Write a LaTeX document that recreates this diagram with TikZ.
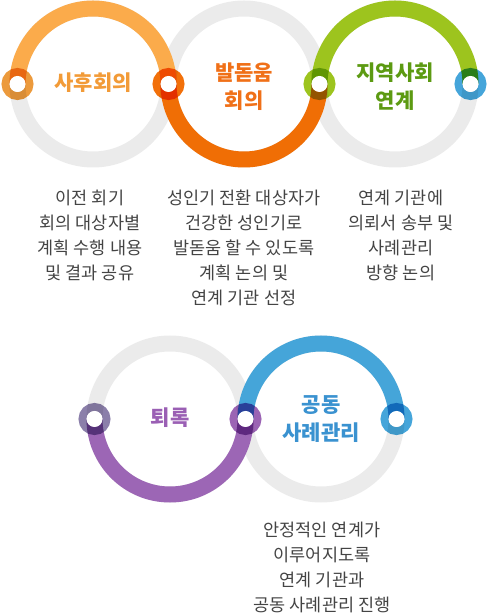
\documentclass[tikz,border=0pt]{standalone}
\usepackage{fontspec}
\setmainfont{Noto Sans CJK KR}
\usetikzlibrary{positioning}

\definecolor{ringgray}{HTML}{EBEBEB}
\definecolor{arcpeach}{HTML}{FBAB4B}
\definecolor{arcorange}{HTML}{F06E05}
\definecolor{arcgreen}{HTML}{9DC41E}
\definecolor{arcpurple}{HTML}{9C66B5}
\definecolor{arcblue}{HTML}{45A5D9}
\definecolor{dotpeach}{HTML}{EC9A3C}
\definecolor{dotorange}{HTML}{F2700A}
\definecolor{dotgreen}{HTML}{9DC41E}
\definecolor{dotblue}{HTML}{45A5DA}
\definecolor{dotlilac}{HTML}{8B7FAA}
\definecolor{dotpurple}{HTML}{9B64B4}
\definecolor{txtpeach}{HTML}{F29B38}
\definecolor{txtorange}{HTML}{F07018}
\definecolor{txtgreen}{HTML}{5C9A12}
\definecolor{txtpurple}{HTML}{9A5FB4}
\definecolor{txtblue}{HTML}{3A92D0}
\definecolor{desctext}{HTML}{444444}

\begin{document}
\begin{tikzpicture}[
    x=1pt,
    y=1pt,
    line cap=butt,
    ring/.style={draw=ringgray, line width=16pt},
    band/.style={line width=16pt},
    dotring/.style={line width=8pt},
    hole/.style={fill=white},
    title/.style={
        font=\fontsize{21}{28}\selectfont\bfseries,
        align=center,
        inner sep=0pt
    },
    desc/.style={
        font=\fontsize{17.5}{25}\selectfont,
        text=desctext,
        align=center,
        inner sep=0pt,
        anchor=north
    }
]
\useasboundingbox (0,0) rectangle (489,616);

% =========================
% Circle centres and joints
% =========================
\coordinate (c1) at (93,532);
\coordinate (c2) at (244,532);
\coordinate (c3) at (395,532);
\coordinate (c4) at (170,197);
\coordinate (c5) at (321,197);

\coordinate (j1) at (17.5,532);
\coordinate (j2) at (168.5,532);
\coordinate (j3) at (319.5,532);
\coordinate (j4) at (470.5,532);
\coordinate (j5) at (94.5,197);
\coordinate (j6) at (245.5,197);
\coordinate (j7) at (396.5,197);

% =========================
% Gray rings
% =========================
\draw[ring] (c1) circle[radius=75.5];
\draw[ring] (c2) circle[radius=75.5];
\draw[ring] (c3) circle[radius=75.5];
\draw[ring] (c4) circle[radius=75.5];
\draw[ring] (c5) circle[radius=75.5];

% =========================
% Coloured halves
% =========================
\draw[band, arcpeach] (j1) arc[start angle=180, end angle=0, radius=75.5];
\draw[band, arcorange] (j2) arc[start angle=180, end angle=360, radius=75.5];
\draw[band, arcgreen] (j3) arc[start angle=180, end angle=0, radius=75.5];
\draw[band, arcpurple] (j5) arc[start angle=180, end angle=360, radius=75.5];
\draw[band, arcblue] (j6) arc[start angle=180, end angle=0, radius=75.5];

% =========================
% Joints
% =========================
\begin{scope}[blend mode=multiply]
\draw[dotring, dotpeach] (j1) circle[radius=12];
\draw[dotring, dotorange] (j2) circle[radius=12];
\draw[dotring, dotgreen] (j3) circle[radius=12];
\draw[dotring, dotblue] (j4) circle[radius=12];
\draw[dotring, dotlilac] (j5) circle[radius=12];
\draw[dotring, dotpurple] (j6) circle[radius=12];
\draw[dotring, dotblue] (j7) circle[radius=12];
\end{scope}
\fill[hole] (j1) circle[radius=8];
\fill[hole] (j2) circle[radius=8];
\fill[hole] (j3) circle[radius=8];
\fill[hole] (j4) circle[radius=8];
\fill[hole] (j5) circle[radius=8];
\fill[hole] (j6) circle[radius=8];
\fill[hole] (j7) circle[radius=8];

% =========================
% Titles
% =========================
\node[title, text=txtpeach] (review) at (93,533) {사후회의};
\node[title, text=txtorange] (growth) at (244,529) {발돋움\\회의};
\node[title, text=txtgreen] (link) at (395,529) {지역사회\\연계};
\node[title, text=txtpurple] (closing) at (170,198) {퇴록};
\node[title, text=txtblue] (casework) at (321,197) {공동\\사례관리};

% =========================
% Descriptions
% =========================
\node[desc] (reviewtxt) at (90,426) {이전 회기\\회의 대상자별\\계획 수행 내용\\및 결과 공유};
\node[desc] (growthtxt) at (244,426) {성인기 전환 대상자가\\건강한 성인기로\\발돋움 할 수 있도록\\계획 논의 및\\연계 기관 선정};
\node[desc] (linktxt) at (401,426) {연계 기관에\\의뢰서 송부 및\\사례관리\\방향 논의};
\node[desc] (caseworktxt) at (322,94) {안정적인 연계가\\이루어지도록\\연계 기관과\\공동 사례관리 진행};

\end{tikzpicture}
\end{document}
